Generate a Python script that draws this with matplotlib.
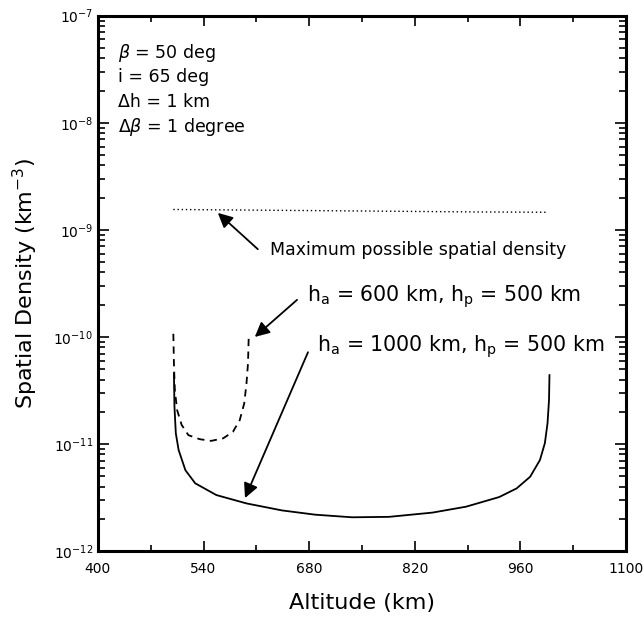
import matplotlib.pyplot as plt
from matplotlib.ticker import LogLocator, FixedLocator, NullFormatter

# altitude (km) and spatial density (km^-3)
alt_max = [500, 600, 700, 800, 900, 995]
dens_max = [1.55e-9, 1.53e-9, 1.51e-9, 1.49e-9, 1.47e-9, 1.46e-9]

alt_600 = [500, 500.8, 502, 505, 511, 520, 535, 550, 566, 579, 588, 594, 597, 599, 600]
dens_600 = [1.07e-10, 5.67e-11, 3.2e-11, 2.08e-11, 1.51e-11, 1.21e-11, 1.11e-11, 1.07e-11,
            1.13e-11, 1.30e-11, 1.67e-11, 2.4e-11, 3.7e-11, 5.7e-11, 1.05e-10]

alt_1000 = [500.8, 501.5, 503.3, 507, 516, 529, 557, 597, 644, 688, 737, 786, 843.5,
            888, 932, 955, 973, 986, 992.5, 996, 998, 998.6]
dens_1000 = [4.58e-11, 2.23e-11, 1.26e-11, 8.8e-12, 5.7e-12, 4.3e-12, 3.34e-12, 2.79e-12,
             2.4e-12, 2.19e-12, 2.07e-12, 2.09e-12, 2.29e-12, 2.6e-12, 3.2e-12, 3.85e-12,
             4.95e-12, 7.1e-12, 1.02e-11, 1.56e-11, 2.58e-11, 4.4e-11]

x_ticks = [400, 540, 680, 820, 960, 1100]
x_minor = [470, 610, 750, 890, 1030]

params = [r'$\beta$ = 50 deg', 'i = 65 deg', 'Δh = 1 km', r'Δ$\beta$ = 1 degree']

fig = plt.figure(figsize=(6.44, 6.27), dpi=100)
ax = fig.add_axes([0.152, 0.121, 0.820, 0.854])

ax.plot(alt_max, dens_max, color='k', lw=1.0, linestyle=(0, (1, 2)))
ax.plot(alt_600, dens_600, color='k', lw=1.3, linestyle=(0, (4, 3)))
ax.plot(alt_1000, dens_1000, color='k', lw=1.3)

ax.set_yscale('log')
ax.set_xlim(400, 1100)
ax.set_ylim(1e-12, 1e-7)
ax.xaxis.set_major_locator(FixedLocator(x_ticks))
ax.xaxis.set_minor_locator(FixedLocator(x_minor))
ax.yaxis.set_major_locator(LogLocator(base=10, numticks=10))
ax.yaxis.set_minor_locator(LogLocator(base=10, subs=range(2, 10), numticks=50))
ax.yaxis.set_minor_formatter(NullFormatter())
ax.xaxis.get_offset_text().set_visible(False)
ax.yaxis.get_offset_text().set_visible(False)
ax.tick_params(which='both', direction='in', top=True, right=True, width=1.2)
ax.tick_params(which='major', length=8, labelsize=10)
ax.tick_params(which='minor', length=5)
ax.tick_params(axis='x', which='major', length=7, pad=8)
ax.tick_params(axis='x', which='minor', length=4)
for sp in ax.spines.values():
    sp.set_linewidth(2.2)

ax.set_xlabel('Altitude (km)', fontsize=16, labelpad=12)
ax.set_ylabel(r'Spatial Density (km$^{-3}$)', fontsize=16, labelpad=10)

for i, txt in enumerate(params):
    ax.text(0.038, 0.931 - i * 0.046, txt, transform=ax.transAxes,
            fontsize=12.5, va='center', ha='left')

arrow = dict(arrowstyle='-|>', color='k', lw=1.3, mutation_scale=22,
             shrinkA=0, shrinkB=0)
ax.annotate('', xy=(559, 1.44e-9), xytext=(612, 6.6e-10), arrowprops=arrow)
ax.text(628, 6.5e-10, 'Maximum possible spatial density', fontsize=12.5,
        va='center', ha='left')

ax.annotate('', xy=(608, 1.0e-10), xytext=(664, 2.22e-10), arrowprops=arrow)
ax.text(677, 2.36e-10, r'h$_\mathrm{a}$ = 600 km, h$_\mathrm{p}$ = 500 km',
        fontsize=14.8, va='center', ha='left')

ax.annotate('', xy=(595, 3.13e-12), xytext=(678.5, 7.2e-11), arrowprops=arrow)
ax.text(690, 8.07e-11, r'h$_\mathrm{a}$ = 1000 km, h$_\mathrm{p}$ = 500 km',
        fontsize=14.8, va='center', ha='left')

fig.savefig('out.png', dpi=100)
